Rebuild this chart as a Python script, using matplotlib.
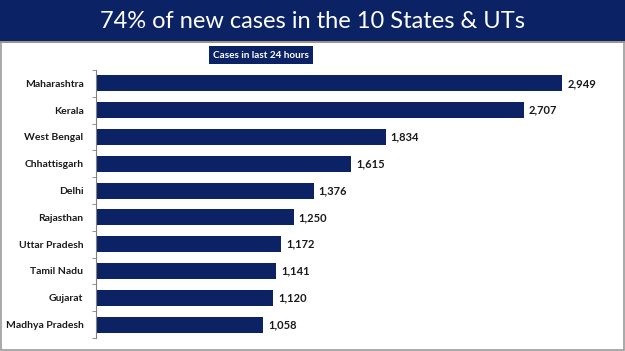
import matplotlib.pyplot as plt
from matplotlib.patches import Rectangle
import numpy as np

states = ['Maharashtra', 'Kerala', 'West Bengal', 'Chhattisgarh', 'Delhi',
          'Rajasthan', 'Uttar Pradesh', 'Tamil Nadu', 'Gujarat', 'Madhya Pradesh']
cases = [2949, 2707, 1834, 1615, 1376, 1250, 1172, 1141, 1120, 1058]

navy = '#0b2265'
W, H = 625, 351

fig = plt.figure(figsize=(W / 100, H / 100), dpi=100)
fig.patch.set_facecolor('white')

# header band + thin rule under it
fig.patches.append(Rectangle((0, 1 - 41 / H), 1, 41 / H, transform=fig.transFigure,
                             facecolor=navy, edgecolor='none', zorder=0))
fig.patches.append(Rectangle((0, 1 - 43 / H), 1, 2 / H, transform=fig.transFigure,
                             facecolor='#b8733a', edgecolor='none', zorder=0))
# light frame round the slide
fig.patches.append(Rectangle((0.002, 0.003), 0.996, 1 - 43 / H, transform=fig.transFigure,
                             facecolor='none', edgecolor='#9a9a9a', lw=1.2, zorder=0))

fig.text(0.5, 1 - 21 / H, '74% of new cases in the 10 States & UTs', ha='center', va='center',
         color='white', fontsize=17, family='Lato')
fig.text(261 / W, 1 - 55 / H, 'Cases in last 24 hours', ha='center', va='center',
         color='white', fontsize=7.2, fontweight='bold', family='Lato',
         bbox=dict(boxstyle='square,pad=0.45', facecolor=navy, edgecolor='none'))

ax = fig.add_axes([96 / W, 1 - 338 / H, 514 / W, 268 / H])
y = np.arange(len(states))
ax.barh(y, cases, height=0.6, color=navy)
for yi, v in zip(y, cases):
    ax.text(v + 30, yi, f'{v:,}', va='center', ha='left', fontsize=8,
            fontweight='bold', family='Lato', color='#1a1a1a')

ax.set_xlim(0, 3250)
ax.set_ylim(len(states) - 0.5, -0.5)
ax.set_yticks(y)
ax.set_yticklabels(states, fontsize=7.5, fontweight='bold', family='Lato', color='#1a1a1a')
ax.set_yticks(np.arange(-0.5, len(states)), minor=True)
ax.tick_params(axis='y', which='major', length=0, pad=9)
ax.tick_params(axis='y', which='minor', length=3, color='#808080', direction='out')
ax.set_xticks([])
for s in ['top', 'right', 'bottom']:
    ax.spines[s].set_visible(False)
ax.spines['left'].set_color('#808080')
ax.set_facecolor('none')

fig.savefig('out.png', dpi=100)
